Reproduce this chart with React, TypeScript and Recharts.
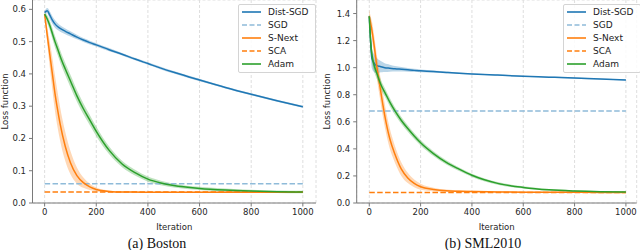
import React from "react";
import { ComposedChart, Line, Area, XAxis, YAxis, CartesianGrid, Legend } from "recharts";

// (a) Boston
const bostonIters = [0, 10, 20, 30, 40, 50, 60, 80, 100, 125, 150, 175, 200, 250, 300, 350, 400, 450, 500, 600, 700, 800, 900, 1000];
const bostonDistSgd = [0.59, 0.596, 0.582, 0.567, 0.555, 0.547, 0.541, 0.532, 0.524, 0.514, 0.505, 0.497, 0.49, 0.475, 0.461, 0.446, 0.432, 0.418, 0.405, 0.381, 0.358, 0.337, 0.317, 0.298];
const bostonDistSgdSpread = [0.004, 0.008, 0.012, 0.012, 0.012, 0.011, 0.01, 0.009, 0.008, 0.007, 0.006, 0.006, 0.005, 0.005, 0.004, 0.004, 0.004, 0.004, 0.004, 0.004, 0.003, 0.003, 0.003, 0.003];
const bostonSNext = [0.585, 0.52, 0.46, 0.4, 0.34, 0.29, 0.245, 0.175, 0.125, 0.085, 0.063, 0.05, 0.042, 0.036, 0.034, 0.034, 0.033, 0.033, 0.033, 0.033, 0.033, 0.033, 0.033, 0.033];
const bostonSNextSpread = [0.005, 0.025, 0.04, 0.05, 0.055, 0.055, 0.052, 0.045, 0.036, 0.025, 0.016, 0.01, 0.006, 0.003, 0.002, 0.002, 0.002, 0.002, 0.002, 0.002, 0.002, 0.002, 0.002, 0.002];
const bostonAdam = [0.585, 0.57, 0.55, 0.525, 0.5, 0.478, 0.455, 0.415, 0.378, 0.332, 0.292, 0.257, 0.222, 0.163, 0.121, 0.094, 0.074, 0.062, 0.054, 0.045, 0.04, 0.037, 0.035, 0.034];
const bostonAdamSpread = [0.005, 0.012, 0.015, 0.017, 0.018, 0.019, 0.019, 0.019, 0.019, 0.018, 0.017, 0.016, 0.015, 0.012, 0.01, 0.009, 0.008, 0.007, 0.006, 0.005, 0.005, 0.004, 0.004, 0.004];
const bostonSgd = 0.06;
const bostonSca = 0.034;
const bostonYTicks = [0, 0.1, 0.2, 0.3, 0.4, 0.5, 0.6];

// (b) SML2010
const smlIters = [0, 5, 10, 20, 30, 40, 50, 60, 80, 100, 125, 150, 175, 200, 250, 300, 350, 400, 500, 600, 700, 800, 900, 1000];
const smlDistSgd = [1.38, 1.2, 1.07, 1.03, 1.015, 1.01, 1.005, 1.0, 0.996, 0.992, 0.988, 0.984, 0.98, 0.977, 0.971, 0.965, 0.959, 0.954, 0.945, 0.937, 0.93, 0.923, 0.916, 0.909];
const smlDistSgdSpread = [0.02, 0.08, 0.075, 0.065, 0.055, 0.045, 0.038, 0.032, 0.026, 0.021, 0.017, 0.014, 0.012, 0.01, 0.008, 0.007, 0.006, 0.005, 0.005, 0.004, 0.004, 0.004, 0.004, 0.004];
const smlSNext = [1.38, 1.33, 1.28, 1.15, 1.0, 0.88, 0.76, 0.65, 0.475, 0.36, 0.25, 0.185, 0.145, 0.12, 0.1, 0.09, 0.087, 0.085, 0.082, 0.08, 0.079, 0.079, 0.078, 0.078];
const smlSNextSpread = [0.05, 0.05, 0.065, 0.075, 0.085, 0.09, 0.09, 0.085, 0.075, 0.062, 0.05, 0.038, 0.028, 0.022, 0.013, 0.009, 0.007, 0.006, 0.005, 0.005, 0.005, 0.005, 0.005, 0.005];
const smlAdam = [1.38, 1.2, 1.1, 1.01, 0.955, 0.9, 0.855, 0.82, 0.745, 0.68, 0.61, 0.55, 0.495, 0.445, 0.365, 0.3, 0.25, 0.205, 0.145, 0.115, 0.097, 0.088, 0.083, 0.081];
const smlAdamSpread = [0.02, 0.06, 0.05, 0.045, 0.04, 0.036, 0.034, 0.032, 0.03, 0.028, 0.026, 0.024, 0.022, 0.02, 0.018, 0.015, 0.013, 0.012, 0.01, 0.008, 0.007, 0.006, 0.006, 0.006];
const smlSgd = 0.68;
const smlSca = 0.077;
const smlYTicks = [0, 0.2, 0.4, 0.6, 0.8, 1.0, 1.2, 1.4];

const xTicks = [0, 200, 400, 600, 800, 1000];

const BLUE = "#1f77b4";
const LIGHT_BLUE = "#8fbbd9";
const ORANGE = "#ff7f0e";
const GREEN = "#2ca02c";
const SPINE = "#7a7a7a";
const FONT = "DejaVu Sans";

const legendItems = [
  { name: "Dist-SGD", color: BLUE, dash: undefined },
  { name: "SGD", color: LIGHT_BLUE, dash: "5 2.5" },
  { name: "S-Next", color: ORANGE, dash: undefined },
  { name: "SCA", color: ORANGE, dash: "5 2.5" },
  { name: "Adam", color: GREEN, dash: undefined },
];

function band(v: number, s: number): [number, number] {
  return [Math.max(0, v - s), v + s];
}

function buildRows(
  iters: number[],
  dsgd: number[], dsgdS: number[],
  snext: number[], snextS: number[],
  adam: number[], adamS: number[],
  sgd: number, sca: number
) {
  return iters.map((it, i) => ({
    it,
    dsgd: dsgd[i],
    dsgdBand: band(dsgd[i], dsgdS[i]),
    snext: snext[i],
    snextBand: band(snext[i], snextS[i]),
    adam: adam[i],
    adamBand: band(adam[i], adamS[i]),
    sgd,
    sca,
  }));
}

const bostonRows = buildRows(bostonIters, bostonDistSgd, bostonDistSgdSpread, bostonSNext, bostonSNextSpread, bostonAdam, bostonAdamSpread, bostonSgd, bostonSca);
const smlRows = buildRows(smlIters, smlDistSgd, smlDistSgdSpread, smlSNext, smlSNextSpread, smlAdam, smlAdamSpread, smlSgd, smlSca);

function LegendBox() {
  return (
    <div
      style={{
        background: "rgba(255,255,255,0.85)",
        border: "1px solid #d4d4d4",
        borderRadius: 2,
        padding: "1px 6px 2px 3px",
        fontFamily: FONT,
        fontSize: 9,
        color: "#222",
        lineHeight: "12.9px",
      }}
    >
      {legendItems.map((item) => (
        <div key={item.name} style={{ display: "flex", alignItems: "center", height: 12.9 }}>
          <svg width={19} height={4} style={{ display: "block" }}>
            <line x1={0} y1={2} x2={19} y2={2} stroke={item.color} strokeWidth={1.6} strokeDasharray={item.dash} />
          </svg>
          <span style={{ marginLeft: 7, whiteSpace: "nowrap" }}>{item.name}</span>
        </div>
      ))}
    </div>
  );
}

type PanelProps = {
  rows: ReturnType<typeof buildRows>;
  yDomain: [number, number];
  yTicks: number[];
  xDomain: [number, number];
  yAxisWidth: number;
  rightMargin: number;
  legendLeft: number;
  yLabelX: number;
};

function Panel({ rows, yDomain, yTicks, xDomain, yAxisWidth, rightMargin, legendLeft, yLabelX }: PanelProps) {
  const tick = { fontSize: 8.5, fontFamily: FONT, fill: "#262626" };
  return (
    <ComposedChart width={320} height={240} data={rows} margin={{ top: 0, right: rightMargin, bottom: 0, left: 0 }}>
      <CartesianGrid stroke="#dedede" strokeDasharray="3 2" />
      <XAxis
        dataKey="it"
        type="number"
        domain={xDomain}
        ticks={xTicks}
        allowDataOverflow
        height={37}
        tick={tick}
        tickSize={3.5}
        tickMargin={2}
        stroke={SPINE}
        label={{ value: "Iteration", position: "insideBottom", offset: 10, style: { fontSize: 8.5, fontFamily: FONT, fill: "#262626" } }}
      />
      <YAxis
        yAxisId="l"
        type="number"
        domain={yDomain}
        ticks={yTicks}
        allowDataOverflow
        width={yAxisWidth}
        tick={tick}
        tickSize={3.5}
        tickMargin={3}
        tickFormatter={(v: number) => v.toFixed(1)}
        stroke={SPINE}
        label={{
          value: "Loss function",
          angle: -90,
          position: "insideLeft",
          offset: yLabelX,
          style: { textAnchor: "middle", fontSize: 8.5, fontFamily: FONT, fill: "#262626" },
        }}
      />
      <YAxis yAxisId="r" orientation="right" width={0} tick={false} tickLine={false} stroke={SPINE} domain={yDomain} />
      <Area yAxisId="l" type="monotone" dataKey="dsgdBand" stroke="none" fill={BLUE} fillOpacity={0.3} isAnimationActive={false} />
      <Line yAxisId="l" type="monotone" dataKey="dsgd" stroke={BLUE} strokeWidth={1.5} dot={false} isAnimationActive={false} />
      <Line yAxisId="l" type="linear" dataKey="sgd" stroke={LIGHT_BLUE} strokeWidth={1.5} strokeDasharray="5.5 2.4" dot={false} isAnimationActive={false} />
      <Area yAxisId="l" type="monotone" dataKey="snextBand" stroke="none" fill={ORANGE} fillOpacity={0.3} isAnimationActive={false} />
      <Line yAxisId="l" type="monotone" dataKey="snext" stroke={ORANGE} strokeWidth={1.5} dot={false} isAnimationActive={false} />
      <Line yAxisId="l" type="linear" dataKey="sca" stroke={ORANGE} strokeWidth={1.5} strokeDasharray="5.5 2.4" dot={false} isAnimationActive={false} />
      <Area yAxisId="l" type="monotone" dataKey="adamBand" stroke="none" fill={GREEN} fillOpacity={0.3} isAnimationActive={false} />
      <Line yAxisId="l" type="monotone" dataKey="adam" stroke={GREEN} strokeWidth={1.5} dot={false} isAnimationActive={false} />
      <Legend
        layout="vertical"
        align="center"
        verticalAlign="middle"
        content={() => <LegendBox />}
        wrapperStyle={{ left: legendLeft, top: 4, width: "auto", height: "auto" }}
      />
    </ComposedChart>
  );
}

export default function App() {
  return (
    <div style={{ position: "absolute", left: 0, top: 0, width: 640, height: 250, background: "#fff" }}>
      <div style={{ position: "absolute", left: 0, top: 0 }}>
        <Panel
          rows={bostonRows}
          yDomain={[0, 0.629]}
          yTicks={bostonYTicks}
          xDomain={[-47, 1051]}
          yAxisWidth={32.5}
          rightMargin={4}
          legendLeft={238}
          yLabelX={5}
        />
      </div>
      <div style={{ position: "absolute", left: 320, top: 0 }}>
        <Panel
          rows={smlRows}
          yDomain={[0, 1.5]}
          yTicks={smlYTicks}
          xDomain={[-49, 1042]}
          yAxisWidth={36.7}
          rightMargin={3.3}
          legendLeft={243}
          yLabelX={7}
        />
      </div>
      <svg width={640} height={250} style={{ position: "absolute", left: 0, top: 0, pointerEvents: "none" }}>
        <text x={157} y={248} textAnchor="middle" fontFamily="Liberation Serif" fontSize={14} fill="#111">
          (a) Boston
        </text>
        <text x={483} y={248} textAnchor="middle" fontFamily="Liberation Serif" fontSize={14} fill="#111">
          (b) SML2010
        </text>
      </svg>
    </div>
  );
}
